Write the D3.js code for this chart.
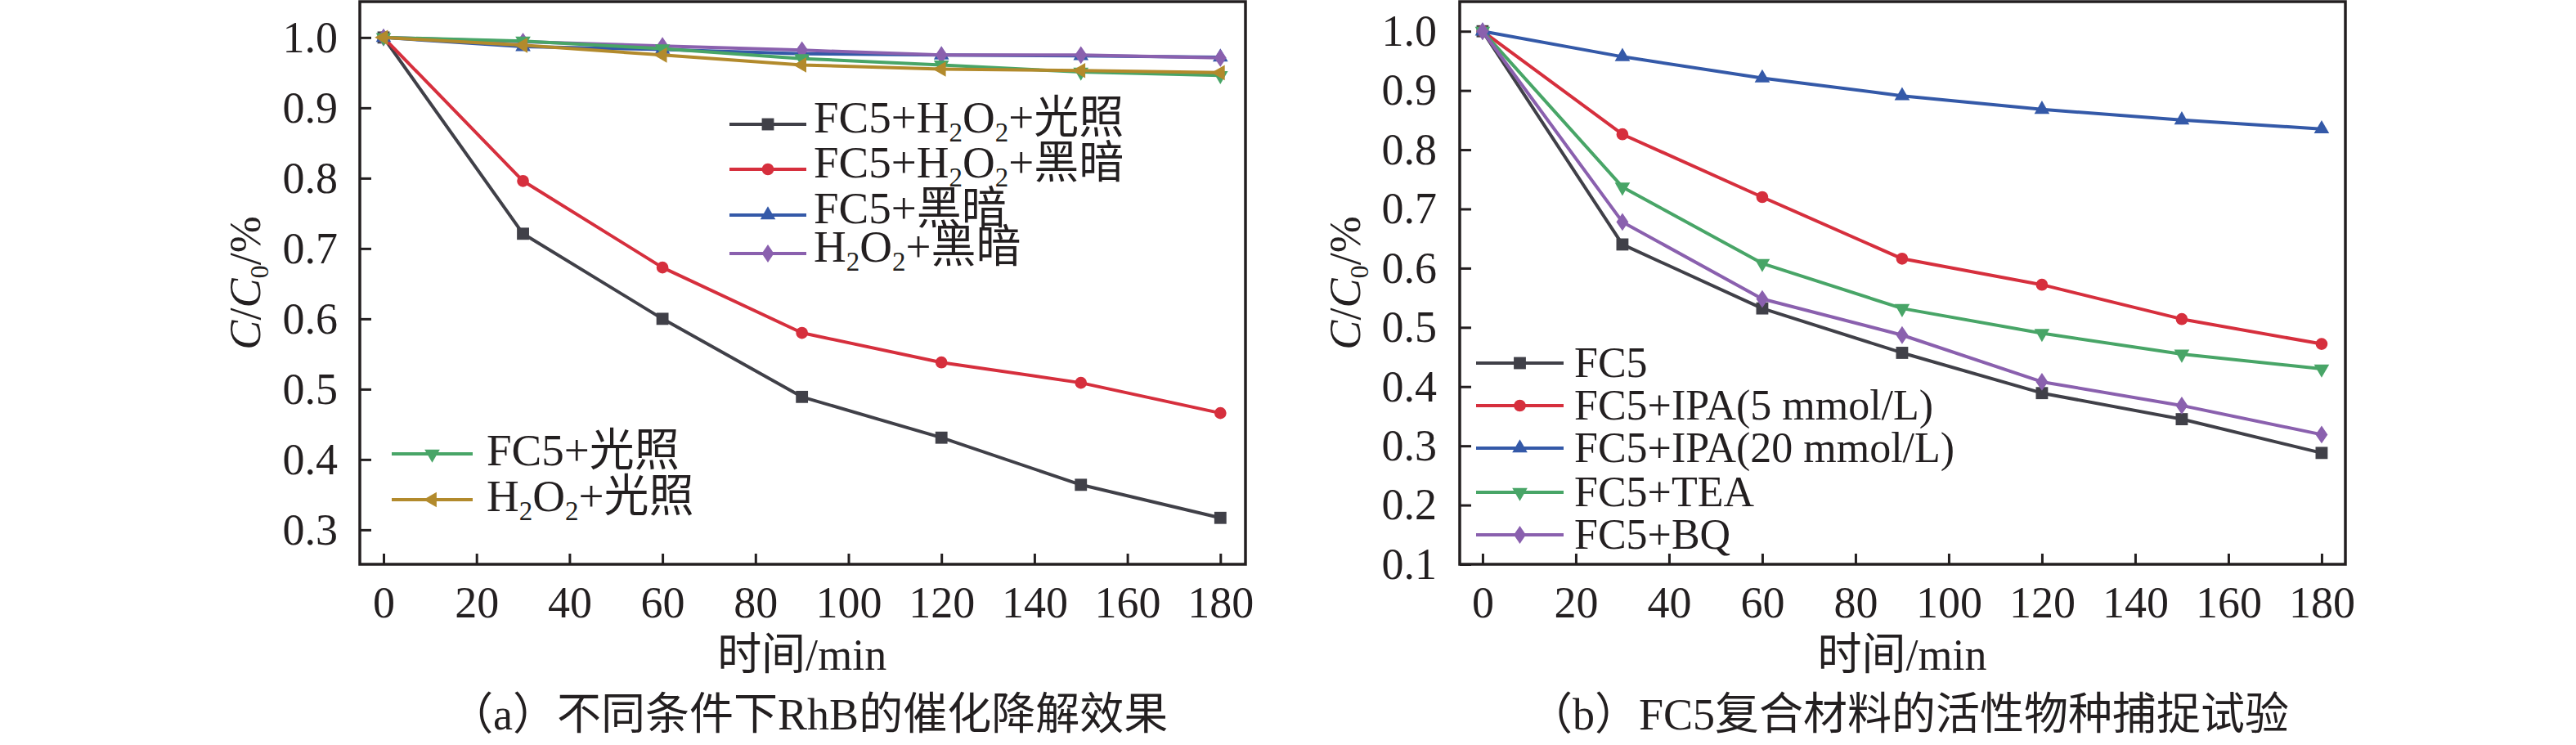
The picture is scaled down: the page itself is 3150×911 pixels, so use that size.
<!DOCTYPE html>
<html>
<head>
<meta charset="utf-8">
<script src="https://cdn.jsdelivr.net/npm/d3@7"></script>
<style>
  html, body { margin: 0; padding: 0; background: #fff; }
  svg text { font-family: "Liberation Serif", "Noto Sans CJK SC", serif; fill: #231f20; }
</style>
</head>
<body>
<svg id="chart" width="3150" height="911"></svg>
<script>
// sampling times (min)
const times = [0, 30, 60, 90, 120, 150, 180];
const xTicks = [0, 20, 40, 60, 80, 100, 120, 140, 160, 180];
const yTicksA = [0.3, 0.4, 0.5, 0.6, 0.7, 0.8, 0.9, 1.0];
const yTicksB = [0.1, 0.2, 0.3, 0.4, 0.5, 0.6, 0.7, 0.8, 0.9, 1.0];

// (a) different conditions
const namesA = ['FC5+H_2O_2+光照', 'FC5+H_2O_2+黑暗', 'FC5+黑暗', 'H_2O_2+黑暗', 'FC5+光照', 'H_2O_2+光照'];
const fc5H2o2Light = [1.0, 0.721, 0.600, 0.489, 0.431, 0.364, 0.317];
const fc5H2o2Dark  = [1.0, 0.796, 0.673, 0.580, 0.538, 0.509, 0.466];
const fc5Dark      = [1.0, 0.987, 0.983, 0.977, 0.975, 0.974, 0.972];
const h2o2Dark     = [1.0, 0.994, 0.988, 0.982, 0.975, 0.975, 0.971];
const fc5Light     = [1.0, 0.995, 0.984, 0.970, 0.961, 0.951, 0.946];
const h2o2Light    = [1.0, 0.989, 0.975, 0.961, 0.955, 0.953, 0.950];

// (b) scavenger tests
const namesB = ['FC5', 'FC5+IPA(5 mmol/L)', 'FC5+IPA(20 mmol/L)', 'FC5+TEA', 'FC5+BQ'];
const fc5    = [1.0, 0.640, 0.532, 0.457, 0.389, 0.345, 0.288];
const ipa5   = [1.0, 0.826, 0.720, 0.616, 0.572, 0.514, 0.472];
const ipa20  = [1.0, 0.957, 0.921, 0.891, 0.868, 0.850, 0.835];
const tea    = [1.0, 0.737, 0.608, 0.532, 0.490, 0.455, 0.430];
const bq     = [1.0, 0.678, 0.548, 0.487, 0.408, 0.368, 0.319];

const C = {
  black: '#404048', red: '#d62f3d', blue: '#3459a8',
  green: '#48a567', purple: '#8a60ae', gold: '#b28a2c'
};
const ink = '#231f20';

// diamond a bit fatter than d3's
const diamondTall = {
  draw(ctx, size) {
    const h = Math.sqrt(size) * 0.72, w = h * 0.68;
    ctx.moveTo(0, -h); ctx.lineTo(w, 0); ctx.lineTo(0, h); ctx.lineTo(-w, 0); ctx.closePath();
  }
};
const shapes = {
  square:   { type: d3.symbolSquare, size: 220, rot: 0 },
  circle:   { type: d3.symbolCircle, size: 170, rot: 0 },
  triUp:    { type: d3.symbolTriangle, size: 150, rot: 0 },
  triDown:  { type: d3.symbolTriangle, size: 150, rot: 180 },
  triLeft:  { type: d3.symbolTriangle, size: 150, rot: -90 },
  diamond:  { type: diamondTall, size: 230, rot: 0 }
};

const svg = d3.select('#chart');
svg.append('rect').attr('width', 3150).attr('height', 911).attr('fill', '#fff');

// text with "_x" subscripts
function richText(text, str, subDy) {
  const parts = str.split(/_(\d)/);
  let shifted = false;
  parts.forEach((p, i) => {
    if (!p) return;
    const t = text.append('tspan').text(p);
    if (i % 2 === 1) {
      t.attr('font-size', '60%').attr('dy', shifted ? 0 : subDy);
      shifted = true;
    } else if (shifted) {
      t.attr('dy', -subDy);
      shifted = false;
    }
  });
}

function marker(g, shape, color, x, y) {
  const s = shapes[shape];
  g.append('path')
    .attr('d', d3.symbol().type(s.type).size(s.size)())
    .attr('transform', `translate(${x},${y}) rotate(${s.rot})`)
    .attr('fill', color);
}

function drawPanel(cfg) {
  const g = svg.append('g');
  const x = d3.scaleLinear().domain(cfg.xDomain).range([cfg.left, cfg.right]);
  const y = d3.scaleLinear().domain(cfg.yDomain).range([cfg.bottom, cfg.top]);

  const xAxis = g.append('g').attr('transform', `translate(0,${cfg.bottom})`)
    .call(d3.axisBottom(x).tickValues(xTicks).tickSizeInner(-13).tickSizeOuter(0).tickPadding(27));
  const yAxis = g.append('g').attr('transform', `translate(${cfg.left},0)`)
    .call(d3.axisLeft(y).tickValues(cfg.yTicks).tickFormat(d3.format('.1f')).tickSizeInner(-14).tickSizeOuter(0).tickPadding(cfg.yPad));
  [xAxis, yAxis].forEach(a => {
    a.select('.domain').remove();
    a.selectAll('.tick line').attr('stroke', ink).attr('stroke-width', 3);
    a.selectAll('.tick text').attr('font-size', 54).attr('fill', ink)
      .style('font-family', '"Liberation Serif", serif');
  });

  // frame
  g.append('rect')
    .attr('x', cfg.left).attr('y', cfg.top)
    .attr('width', cfg.right - cfg.left).attr('height', cfg.bottom - cfg.top)
    .attr('fill', 'none').attr('stroke', ink).attr('stroke-width', 3.5);

  const line = d3.line().x((d, i) => x(times[i])).y(d => y(d));
  cfg.series.forEach(s => {
    g.append('path').datum(s.values)
      .attr('d', line).attr('fill', 'none')
      .attr('stroke', s.color).attr('stroke-width', 4).attr('stroke-linejoin', 'round');
    s.values.forEach((v, i) => marker(g, s.shape, s.color, x(times[i]), y(v)));
  });

  // legends
  cfg.legends.forEach(lg => {
    lg.rows.forEach(r => {
      const s = cfg.series[r.i];
      g.append('line').attr('x1', lg.x1).attr('x2', lg.x2).attr('y1', r.y).attr('y2', r.y)
        .attr('stroke', s.color).attr('stroke-width', 4);
      marker(g, s.shape, s.color, (lg.x1 + lg.x2) / 2, r.y);
      const t = g.append('text').attr('x', lg.tx).attr('y', r.y + lg.base).attr('font-size', lg.fs);
      richText(t, s.name, 11);
    });
  });

  // axis titles
  const cx = (x(0) + x(180)) / 2;
  g.append('text').attr('x', cx).attr('y', 819).attr('text-anchor', 'middle')
    .attr('font-size', 54).text('时间/min');

  const yt = g.append('text')
    .attr('transform', `translate(${cfg.left - 122},${(cfg.top + cfg.bottom) / 2}) rotate(-90)`)
    .attr('text-anchor', 'middle').attr('font-size', 54);
  yt.append('tspan').attr('font-style', 'italic').text('C');
  yt.append('tspan').text('/');
  yt.append('tspan').attr('font-style', 'italic').text('C');
  yt.append('tspan').attr('font-size', '60%').attr('dy', 10).text('0');
  yt.append('tspan').attr('dy', -10).text('/%');

  g.append('text').attr('x', cx + 8).attr('y', 892).attr('text-anchor', 'middle')
    .attr('font-size', 54).text(cfg.caption);
}

drawPanel({
  left: 440, right: 1523, top: 2, bottom: 690,
  xDomain: [-5.1, 185.4], yDomain: [0.251, 1.051], yTicks: yTicksA, yPad: 27,
  caption: '（a）不同条件下RhB的催化降解效果',
  series: [
    { name: namesA[0], values: fc5H2o2Light, color: C.black,  shape: 'square' },
    { name: namesA[1], values: fc5H2o2Dark,  color: C.red,    shape: 'circle' },
    { name: namesA[2], values: fc5Dark,      color: C.blue,   shape: 'triUp' },
    { name: namesA[3], values: h2o2Dark,     color: C.purple, shape: 'diamond' },
    { name: namesA[4], values: fc5Light,     color: C.green,  shape: 'triDown' },
    { name: namesA[5], values: h2o2Light,    color: C.gold,   shape: 'triLeft' }
  ],
  legends: [
    { x1: 892, x2: 986, tx: 995, fs: 55, base: 10,
      rows: [{ i: 0, y: 152 }, { i: 1, y: 207 }, { i: 2, y: 263 }, { i: 3, y: 310 }] },
    { x1: 479, x2: 578, tx: 595, fs: 55, base: 14,
      rows: [{ i: 4, y: 555 }, { i: 5, y: 611 }] }
  ]
});

drawPanel({
  left: 1785, right: 2868, top: 2, bottom: 690,
  xDomain: [-4.9, 185.1], yDomain: [0.1, 1.05], yTicks: yTicksB, yPad: 28,
  caption: '（b）FC5复合材料的活性物种捕捉试验',
  series: [
    { name: namesB[0], values: fc5,   color: C.black,  shape: 'square' },
    { name: namesB[1], values: ipa5,  color: C.red,    shape: 'circle' },
    { name: namesB[2], values: ipa20, color: C.blue,   shape: 'triUp' },
    { name: namesB[3], values: tea,   color: C.green,  shape: 'triDown' },
    { name: namesB[4], values: bq,    color: C.purple, shape: 'diamond' }
  ],
  legends: [
    { x1: 1805, x2: 1912, tx: 1925, fs: 52, base: 17,
      rows: [{ i: 0, y: 444 }, { i: 1, y: 496 }, { i: 2, y: 548 }, { i: 3, y: 602 }, { i: 4, y: 654 }] }
  ]
});
</script>
</body>
</html>
